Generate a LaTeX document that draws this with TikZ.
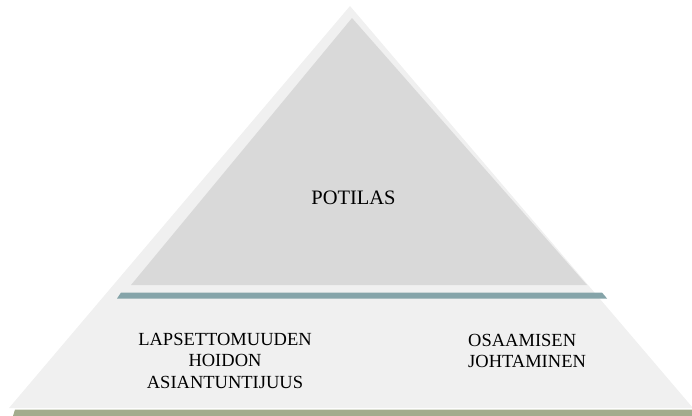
\documentclass[tikz,border=0pt]{standalone}
\usepackage{fontspec}
\setmainfont{Liberation Serif}
\definecolor{outergray}{RGB}{240,240,240}
\definecolor{innergray}{RGB}{217,217,217}
\definecolor{tealbar}{RGB}{133,164,169}
\definecolor{greenbar}{RGB}{163,172,141}
\begin{document}
\begin{tikzpicture}[x=1pt,y=-1pt,
  lbl/.style={inner sep=0pt,font=\fontsize{18.5}{21.2}\selectfont,align=center},
  toplbl/.style={inner sep=0pt,font=\fontsize{20.5}{24}\selectfont}]
\useasboundingbox (0,0) rectangle (692,415);
% outer light triangle
\fill[outergray] (350,6) -- (693,408) -- (9,408) -- cycle;
% inner triangle
\fill[innergray] (352,18) -- (587,285) -- (131,285) -- cycle;
% teal bar
\fill[tealbar] (121,292.5) -- (602,292.5) -- (607,298.5) -- (117,298.5) -- cycle;
% green bar
\fill[greenbar] (15,409.5) -- (695,409.5) -- (695,416) -- (13,416) -- cycle;
% texts
\node[toplbl,anchor=base] (potilas) at (353.5,204) {POTILAS};
\node[lbl,anchor=base] (lap) at (225,388) {LAPSETTOMUUDEN\\HOIDON\\ASIANTUNTIJUUS};
\node[lbl,anchor=base west,align=left] (osa) at (468,367.5) {OSAAMISEN\\JOHTAMINEN};
\end{tikzpicture}
\end{document}
